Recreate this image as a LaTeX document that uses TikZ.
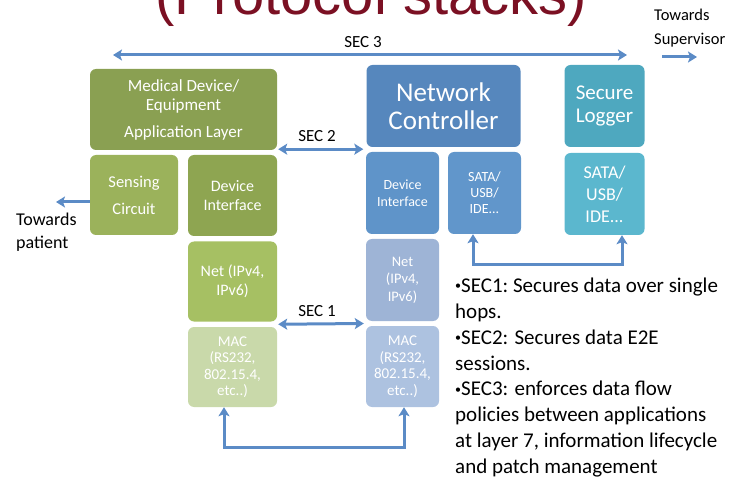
\documentclass[tikz,border=0pt]{standalone}
\usepackage{fontspec}
\setmainfont{Carlito}
\newfontfamily\titlefont{Liberation Sans}
\usetikzlibrary{arrows.meta,calc}

% layer colours
\definecolor{titlered}{HTML}{7B1023}
\definecolor{appC}{HTML}{8AA052}
\definecolor{senseC}{HTML}{9BB25B}
\definecolor{devGC}{HTML}{8EA551}
\definecolor{netGC}{HTML}{A6C063}
\definecolor{macGC}{HTML}{C9D9AA}
\definecolor{ncC}{HTML}{5687BD}
\definecolor{devBC}{HTML}{5F94C9}
\definecolor{sataBC}{HTML}{6196CB}
\definecolor{netBC}{HTML}{9EB4D6}
\definecolor{macBC}{HTML}{ADC2E0}
\definecolor{logC}{HTML}{4EA8BF}
\definecolor{sataTC}{HTML}{5BB7CE}
\definecolor{arrC}{HTML}{5B8BC6}

\newcommand{\fsz}[2]{\fontsize{#1}{#2}\selectfont}
\newcommand{\smallbullet}{\raisebox{0.28ex}{\fsz{12}{12}\textbullet}}

\begin{document}
\begin{tikzpicture}[x=1pt,y=-1pt,
  layer/.style={rounded corners=6pt, inner sep=0pt, text=white, align=center},
  secarrow/.style={draw=arrC, line width=3pt,
    arrows={Stealth[length=9pt,width=11pt,inset=2pt]-Stealth[length=9pt,width=11pt,inset=2pt]}},
  onearrow/.style={draw=arrC, line width=3pt, -{Stealth[length=9pt,width=11pt,inset=2pt]}},
  caption/.style={inner sep=0pt, text=black},
]
\useasboundingbox (0,0) rectangle (739,481);

% heading, cut by the page edge
\node[inner sep=0pt, anchor=base, text=titlered, font=\titlefont\fsz{58}{60}] (title) at (371,15) {(Protocol stacks)};

% medical device stack
\node[layer, fill=appC, minimum width=187, minimum height=81, font=\fsz{17}{19}] (app) at (183.5,109.5)
  {Medical Device/\\Equipment\\[8pt]Application Layer};
\node[layer, fill=senseC, minimum width=88, minimum height=80, font=\fsz{16.5}{27}] (sense) at (134,195)
  {Sensing\\Circuit};
\node[layer, fill=devGC, minimum width=89, minimum height=81, font=\fsz{16}{19}] (devG) at (232.5,195.5)
  {Device\\Interface};
\node[layer, fill=netGC, minimum width=89, minimum height=80, font=\fsz{16}{19}] (netG) at (232.5,281.5)
  {Net (IPv4,\\IPv6)};
\node[layer, fill=macGC, minimum width=89, minimum height=80, font=\fsz{15}{16.5}] (macG) at (232.5,367)
  {MAC\\(RS232,\\802.15.4,\\etc..)};

% network controller stack
\node[layer, fill=ncC, minimum width=154, minimum height=82, font=\fsz{27}{28}] (nc) at (443.5,106)
  {Network\\Controller};
\node[layer, fill=devBC, minimum width=73, minimum height=82, font=\fsz{14}{17}] (devB) at (402.5,193)
  {Device\\Interface};
\node[layer, fill=sataBC, minimum width=73, minimum height=82, font=\fsz{14}{16}] (sataB) at (484.5,193)
  {SATA/\\USB/\\IDE...};
\node[layer, fill=netBC, minimum width=73, minimum height=82, font=\fsz{14.5}{17.5}] (netB) at (402.5,280)
  {Net\\(IPv4,\\IPv6)};
\node[layer, fill=macBC, minimum width=73, minimum height=81, font=\fsz{15}{16.5}] (macB) at (402.5,366.5)
  {MAC\\(RS232,\\802.15.4,\\etc..)};

% secure logger stack
\node[layer, fill=logC, minimum width=80, minimum height=82, font=\fsz{21}{23}] (logger) at (604.5,106)
  {Secure\\Logger};
\node[layer, fill=sataTC, minimum width=80, minimum height=82, font=\fsz{18}{22}] (sataT) at (604.5,194)
  {SATA/\\USB/\\IDE...};

% SEC 3 span and supervisor link
\coordinate (s3l) at (113,55);
\coordinate (s3r) at (627,55);
\draw[secarrow] (s3l) -- (s3r);
\node[caption, anchor=base, font=\fsz{17}{19}] (sec3) at (363,48) {SEC 3};
\node[caption, anchor=base west, align=left, font=\fsz{16.5}{24}] (sup) at (654,45) {Towards\\Supervisor};
\coordinate (supa) at (662,57);
\coordinate (supb) at (697,57);
\draw[onearrow] (supa) -- (supb);

% SEC 2 between application layers
\coordinate (s2l) at ($(app.south east)+(1,-1)$);
\coordinate (s2r) at ($(nc.south west)+(-3,2)$);
\draw[secarrow] (s2l) -- (s2r);
\node[caption, anchor=base, font=\fsz{17}{19}] (sec2) at (317,142) {SEC 2};

% SEC 1 between link layers
\draw[secarrow] ($(netG.south east)!.5!(macG.north east)+(1,0)$) -- ($(netB.south west)!.5!(macB.north west)+(-2,0)$);
\node[caption, anchor=base, font=\fsz{17}{19}] (sec1) at (317,316) {SEC 1};

% towards the patient
\coordinate (pat) at (56,202);
\draw[onearrow] (sense.west |- pat) -- (pat);
\node[caption, anchor=base west, align=left, font=\fsz{18}{23}] (patient) at (16,248) {Towards\\patient};

% physical link between MAC layers
\draw[secarrow] ([xshift=-8.5pt]macG.south) -- ++(0,40) -| ([xshift=1.5pt]macB.south);

% storage link to the logger
\draw[secarrow] ([xshift=-11.5pt]sataB.south) -- ++(0,30) -| ([xshift=17.5pt]sataT.south);

% notes on the three security levels
\node[caption, anchor=north west, align=left, font=\fsz{21}{25.8}] (notes) at (455,278)
  {\frenchspacing
   \smallbullet SEC1: Secures data over single\\
   hops.\\
   \smallbullet SEC2: Secures data E2E\\
   sessions.\\
   \smallbullet SEC3: enforces data flow\\
   policies between applications\\
   at layer 7, information lifecycle\\
   and patch management};
\end{tikzpicture}
\end{document}
